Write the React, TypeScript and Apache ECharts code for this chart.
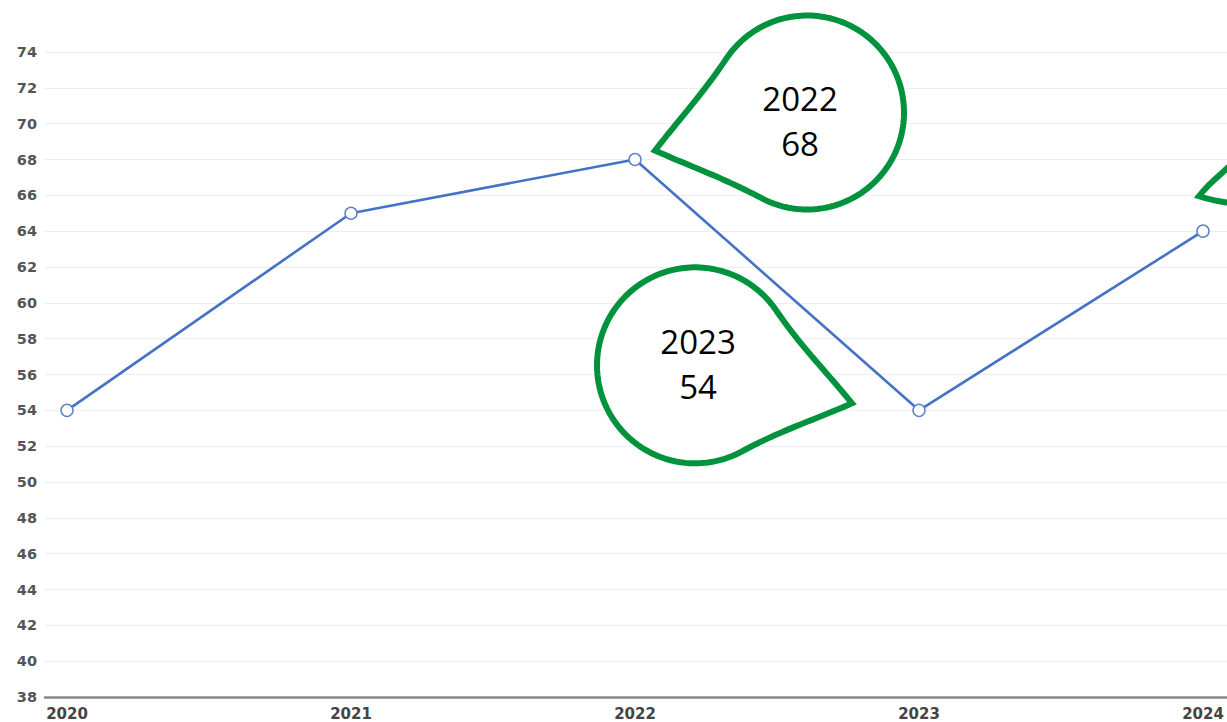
import React, { useEffect, useRef } from "react";
import * as echarts from "echarts";

const years = [2020, 2021, 2022, 2023, 2024];
const values = [54, 65, 68, 54, 64];
const yTicks = { min: 38, max: 74, interval: 2 };
const callouts = [
  { year: 2022, value: 68, text: "2022\n68", tip: [20, -9], center: [172, -47], r: 97, alpha: 48, label: [165, -39] },
  { year: 2023, value: 54, text: "2023\n54", tip: [-67, -7], center: [-224, -45], r: 98, alpha: 48, label: [-221, -46] },
  { year: 2024, value: 64, text: "", tip: [-4, -35], center: [148, -80], r: 97, alpha: 35, label: [148, -80] },
];

const GREEN = "#00923c";
const BLUE = "#4472c4";

function teardrop(T: number[], C: number[], r: number, alphaDeg: number) {
  const th = Math.atan2(T[1] - C[1], T[0] - C[0]);
  const a = (alphaDeg * Math.PI) / 180;
  const p1 = th + a;
  const p2 = th + 2 * Math.PI - a;
  const J1 = [C[0] + r * Math.cos(p1), C[1] + r * Math.sin(p1)];
  const J2 = [C[0] + r * Math.cos(p2), C[1] + r * Math.sin(p2)];
  const L = r * 0.45;
  const pts: number[][] = [];
  const cubic = (P0: number[], P1: number[], P2: number[], P3: number[], n: number) => {
    for (let i = 0; i <= n; i++) {
      const t = i / n;
      const u = 1 - t;
      pts.push([
        u * u * u * P0[0] + 3 * u * u * t * P1[0] + 3 * u * t * t * P2[0] + t * t * t * P3[0],
        u * u * u * P0[1] + 3 * u * u * t * P1[1] + 3 * u * t * t * P2[1] + t * t * t * P3[1],
      ]);
    }
  };
  cubic(
    T,
    [T[0] + (J1[0] - T[0]) * 0.35, T[1] + (J1[1] - T[1]) * 0.35],
    [J1[0] + L * Math.sin(p1), J1[1] - L * Math.cos(p1)],
    J1,
    30
  );
  const n = 140;
  for (let i = 1; i < n; i++) {
    const p = p1 + ((p2 - p1) * i) / n;
    pts.push([C[0] + r * Math.cos(p), C[1] + r * Math.sin(p)]);
  }
  cubic(
    J2,
    [J2[0] - L * Math.sin(p2), J2[1] + L * Math.cos(p2)],
    [T[0] + (J2[0] - T[0]) * 0.35, T[1] + (J2[1] - T[1]) * 0.35],
    T,
    30
  );
  pts.pop();
  return pts;
}

export default function App() {
  const ref = useRef<HTMLDivElement>(null);
  useEffect(() => {
    const chart = echarts.init(ref.current!, null, { renderer: "svg" });
    chart.setOption({
      animation: false,
      backgroundColor: "#ffffff",
      grid: { left: 45, right: 0, top: 52, bottom: 25, containLabel: false, outerBoundsMode: "none" },
      xAxis: {
        type: "value",
        min: 2019.9225,
        max: 2024.0845,
        axisLine: { show: true, lineStyle: { color: "#888888", width: 2.5 } },
        axisTick: { show: false },
        splitLine: { show: false },
        axisLabel: {
          customValues: years,
          formatter: (v: number) => String(Math.round(v)),
          color: "#444444",
          fontWeight: "bold",
          fontSize: 15,
          fontFamily: "DejaVu Sans",
          margin: 9,
          showMinLabel: true,
          showMaxLabel: true,
        },
      },
      yAxis: {
        type: "value",
        min: yTicks.min,
        max: yTicks.max,
        interval: yTicks.interval,
        axisLine: { show: false },
        axisTick: { show: false },
        splitLine: { show: true, lineStyle: { color: "#eeeeee", width: 1 } },
        axisLabel: {
          color: "#555555",
          fontWeight: "bold",
          fontSize: 14.5,
          fontFamily: "DejaVu Sans",
          margin: 8,
        },
      },
      series: [
        {
          type: "line",
          data: years.map((y, i) => [y, values[i]]),
          symbol: "circle",
          symbolSize: 12,
          showSymbol: true,
          lineStyle: { color: BLUE, width: 2.6 },
          itemStyle: { color: "#ffffff", borderColor: "#5a82cc", borderWidth: 1.5 },
          z: 3,
        },
      ],
    });

    const graphics: any[] = [];
    callouts.forEach((c) => {
      const p = chart.convertToPixel({ gridIndex: 0 }, [c.year, c.value]) as number[];
      const T = [p[0] + c.tip[0], p[1] + c.tip[1]];
      const C = [p[0] + c.center[0], p[1] + c.center[1]];
      graphics.push({
        type: "polygon",
        shape: { points: teardrop(T, C, c.r, c.alpha) },
        style: { fill: "#ffffff", stroke: GREEN, lineWidth: 6, lineJoin: "miter", miterLimit: 10 },
        z: 10,
      });
      if (c.text) {
        graphics.push({
          type: "text",
          x: p[0] + c.label[0],
          y: p[1] + c.label[1],
          style: {
            text: c.text,
            fill: "#000000",
            font: "33px 'Open Sans'",
            fontSize: 33,
            fontFamily: "Open Sans",
            lineHeight: 45,
            align: "center",
            verticalAlign: "middle",
          },
          z: 11,
        });
      }
    });
    chart.setOption({ graphic: graphics });
    return () => chart.dispose();
  }, []);
  return <div ref={ref} style={{ position: "absolute", left: 0, top: 0, width: 1227, height: 722 }} />;
}
